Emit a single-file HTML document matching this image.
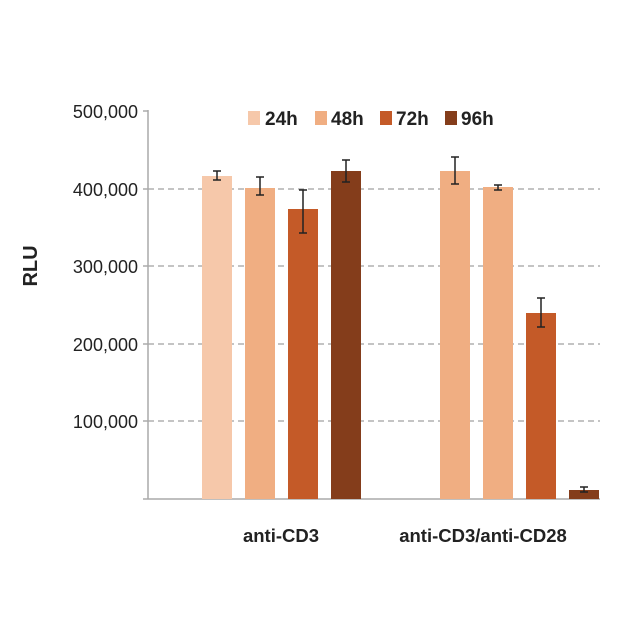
<!DOCTYPE html>
<html><head><style>body{margin:0;background:#fff}</style></head><body>
<svg width="640" height="627" xmlns="http://www.w3.org/2000/svg" font-family="Liberation Sans, sans-serif">
<g stroke="#888" stroke-dasharray="6,4" stroke-width="1">
<line x1="148" y1="189" x2="600" y2="189"/><line x1="148" y1="266" x2="600" y2="266"/><line x1="148" y1="344" x2="600" y2="344"/><line x1="148" y1="421" x2="600" y2="421"/>
</g>
<g stroke="#aaa" stroke-width="1.5"><line x1="148" y1="110" x2="148" y2="499"/><line x1="148" y1="499" x2="600" y2="499"/>
<line x1="143" y1="111" x2="148" y2="111"/><line x1="143" y1="189" x2="148" y2="189"/><line x1="143" y1="266" x2="148" y2="266"/><line x1="143" y1="344" x2="148" y2="344"/><line x1="143" y1="421" x2="148" y2="421"/><line x1="143" y1="499" x2="148" y2="499"/></g>
<g font-size="18" fill="#222" text-anchor="end">
<text x="138" y="118">500,000</text><text x="138" y="196">400,000</text><text x="138" y="273">300,000</text><text x="138" y="351">200,000</text><text x="138" y="428">100,000</text></g>
<text transform="translate(37,266) rotate(-90)" text-anchor="middle" font-size="20" font-weight="bold" fill="#222">RLU</text>
<rect x="202" y="176" width="30" height="323" fill="#f6c8aa"/>
<rect x="245" y="188" width="30" height="311" fill="#f0ae82"/>
<rect x="288" y="209" width="30" height="290" fill="#c45a28"/>
<rect x="331" y="171" width="30" height="328" fill="#843d1b"/>
<rect x="440" y="171" width="30" height="328" fill="#f0ae82"/>
<rect x="483" y="187" width="30" height="312" fill="#f0ae82"/>
<rect x="526" y="313" width="30" height="186" fill="#c45a28"/>
<rect x="569" y="490" width="30" height="9" fill="#843d1b"/>
<g stroke="#222" stroke-width="1.5" fill="none">
<path d="M217 171V180M213 171h8M213 180h8"/>
<path d="M260 177V195M256 177h8M256 195h8"/>
<path d="M303 190V233M299 190h8M299 233h8"/>
<path d="M346 160V182M342 160h8M342 182h8"/>
<path d="M455 157V184M451 157h8M451 184h8"/>
<path d="M498 185V190M494 185h8M494 190h8"/>
<path d="M541 298V327M537 298h8M537 327h8"/>
<path d="M584 487V492M580 487h8M580 492h8"/>
</g>
<g font-size="19" font-weight="bold" fill="#222">
<rect x="248" y="111" width="12" height="14" fill="#f6c8aa"/><text x="265" y="125">24h</text>
<rect x="315" y="111" width="12" height="14" fill="#f0ae82"/><text x="331" y="125">48h</text>
<rect x="380" y="111" width="12" height="14" fill="#c45a28"/><text x="396" y="125">72h</text>
<rect x="445" y="111" width="12" height="14" fill="#843d1b"/><text x="461" y="125">96h</text>
</g>
<g font-size="18.5" fill="#222" text-anchor="middle" font-weight="bold">
<text x="281" y="542">anti-CD3</text><text x="483" y="542">anti-CD3/anti-CD28</text></g>
</svg>
</body></html>
